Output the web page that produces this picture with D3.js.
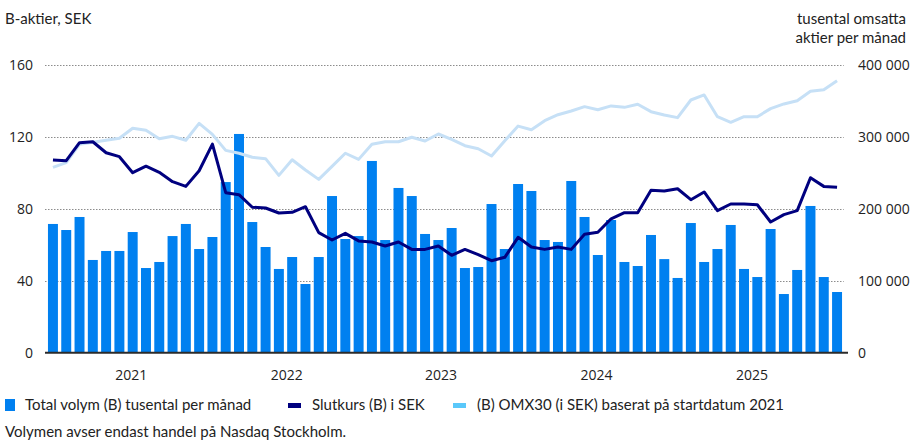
<!DOCTYPE html>
<html>
<head>
<meta charset="utf-8">
<script src="https://cdn.jsdelivr.net/npm/d3@7"></script>
<style>
  html, body { margin: 0; padding: 0; background: #fff; }
  svg { display: block; }
  text { font-family: Lato, "Open Sans", sans-serif; fill: #222; }
</style>
</head>
<body>
<svg id="chart" width="913" height="441"></svg>
<script>
// Monthly series, Jul 2020 – Jun 2025
const months = d3.timeMonth.range(new Date(2020, 6, 1), new Date(2025, 6, 1));

// Total traded volume, B-shares (thousands of shares per month)
const volume = [
  178800, 170400, 188500, 128800, 141300, 141300, 167600, 117600, 126000, 162000,
  178800, 144000, 160700, 237000, 303800, 181500, 146800, 116300, 132900, 95400,
  132900, 217600, 157900, 162000, 266300, 156500, 228800, 217600, 164900, 156500,
  173200, 117600, 119000, 206500, 144000, 234300, 224600, 156500, 153800, 238500,
  188500, 135700, 184300, 126000, 120400, 163500, 130000, 103800, 180100, 126000,
  144000, 177400, 116300, 105100, 171800, 81500, 114900, 203800, 105100, 84300
];

// Closing price, B-share (SEK)
const closePrice = [
  107.1, 106.7, 116.7, 117.2, 111.1, 108.9, 100.0, 103.6, 100.2, 95.0,
  92.4, 101.1, 115.9, 88.9, 87.8, 80.8, 80.4, 77.6, 78.0, 81.1,
  66.7, 62.6, 66.3, 62.1, 61.5, 59.3, 61.5, 57.4, 57.4, 59.3,
  54.1, 57.4, 54.5, 51.1, 53.0, 64.1, 58.7, 57.4, 58.7, 57.4,
  65.8, 66.9, 74.4, 77.8, 77.8, 90.2, 89.8, 91.1, 85.0, 89.3,
  78.9, 82.6, 82.6, 82.2, 72.6, 76.7, 78.9, 97.2, 92.4, 91.9
];

// OMX30 rebased to the B-share (SEK)
const omx30 = [
  103.0, 105.6, 115.8, 116.9, 118.0, 119.1, 124.7, 123.6, 118.9, 120.2,
  118.0, 127.4, 121.3, 112.4, 110.8, 108.6, 107.8, 98.5, 107.2, 101.5,
  96.3, 103.5, 110.8, 107.4, 115.8, 117.2, 117.2, 119.7, 117.6, 121.5,
  118.5, 115.0, 113.3, 109.3, 117.8, 125.9, 123.9, 128.9, 132.2, 134.3,
  136.7, 135.0, 137.1, 136.3, 138.0, 133.9, 132.1, 130.6, 140.4, 143.2,
  131.1, 128.0, 131.1, 131.1, 135.6, 138.2, 140.0, 145.2, 146.1, 151.1
];

// Axis ticks and year labels (year label placed at a fractional month index)
const leftTicks = [0, 40, 80, 120, 160];
const rightTicks = [0, 100000, 200000, 300000, 400000];
const yearLabels = ["2021", "2022", "2023", "2024", "2025"];
const yearLabelAt = [5.9, 17.6, 29.2, 40.9, 52.6];

const legendItems = [
  { label: "Total volym (B) tusental per månad", color: "#0080f0", kind: "bar" },
  { label: "Slutkurs (B) i SEK", color: "#00007f", kind: "line" },
  { label: "(B) OMX30 (i SEK) baserat på startdatum 2021", color: "#5ac8fa", kind: "line" }
];

const svg = d3.select("#chart");
const W = 913;

const plot = { left: 46.3, right: 843.7, top: 64.7, bottom: 352.7 };

const x = d3.scaleBand()
  .domain(d3.range(months.length))
  .range([plot.left, plot.right])
  .paddingInner(0.25)
  .paddingOuter(0.125);

const xMid = i => x(i) + x.bandwidth() / 2;
const xFrac = d3.scaleLinear().domain([0, months.length - 1]).range([xMid(0), xMid(months.length - 1)]);

const yL = d3.scaleLinear().domain([0, 160]).range([plot.bottom, plot.top]);
const yR = d3.scaleLinear().domain([0, 400000]).range([plot.bottom, plot.top]);

// Dotted gridlines
svg.append("g")
  .selectAll("line")
  .data(leftTicks.filter(d => d > 0))
  .join("line")
  .attr("x1", 45).attr("x2", plot.right)
  .attr("y1", d => Math.round(yL(d)) + 0.5).attr("y2", d => Math.round(yL(d)) + 0.5)
  .attr("stroke", "#8c8c8c")
  .attr("stroke-width", 1)
  .attr("stroke-dasharray", "1.5,1.5");

// Volume bars
svg.append("g")
  .selectAll("rect")
  .data(volume)
  .join("rect")
  .attr("x", (d, i) => x(i))
  .attr("width", x.bandwidth())
  .attr("y", d => yR(d))
  .attr("height", d => yR(0) - yR(d))
  .attr("fill", "#0080f0");

// Baseline
svg.append("line")
  .attr("x1", 45).attr("x2", 848)
  .attr("y1", plot.bottom).attr("y2", plot.bottom)
  .attr("stroke", "#2b2b2b")
  .attr("stroke-width", 2);

const line = d3.line()
  .x((d, i) => xMid(i))
  .y(d => yL(d));

svg.append("path")
  .datum(omx30)
  .attr("d", line)
  .attr("fill", "none")
  .attr("stroke", "#c6e0f6")
  .attr("stroke-width", 3)
  .attr("stroke-linejoin", "round");

svg.append("path")
  .datum(closePrice)
  .attr("d", line)
  .attr("fill", "none")
  .attr("stroke", "#00007f")
  .attr("stroke-width", 3)
  .attr("stroke-linejoin", "round");

// Left axis labels
svg.append("g")
  .selectAll("text")
  .data(leftTicks)
  .join("text")
  .attr("x", 33)
  .attr("y", d => yL(d))
  .attr("dy", "0.35em")
  .attr("text-anchor", "end")
  .style("font-family", "'Open Sans', sans-serif")
  .style("font-size", "14px")
  .text(d => d);

// Right axis labels
const fmtR = d => d3.format(",")(d).replace(/,/g, "\u00a0");
svg.append("g")
  .selectAll("text")
  .data(rightTicks)
  .join("text")
  .attr("x", 858)
  .attr("y", d => yR(d))
  .attr("dy", "0.35em")
  .attr("text-anchor", "start")
  .style("font-family", "'Open Sans', sans-serif")
  .style("font-size", "14px")
  .text(fmtR);

// Year labels
svg.append("g")
  .selectAll("text")
  .data(yearLabels)
  .join("text")
  .attr("x", (d, i) => xFrac(yearLabelAt[i]))
  .attr("y", 380)
  .attr("text-anchor", "middle")
  .style("font-family", "'Open Sans', sans-serif")
  .style("font-size", "14px")
  .text(d => d);

// Axis titles
svg.append("text")
  .attr("x", 5).attr("y", 24)
  .style("font-size", "15px")
  .text("B-aktier, SEK");

svg.append("text")
  .attr("x", 906).attr("y", 24)
  .attr("text-anchor", "end")
  .style("font-size", "15px")
  .text("tusental omsatta");
svg.append("text")
  .attr("x", 906).attr("y", 43)
  .attr("text-anchor", "end")
  .style("font-size", "15px")
  .text("aktier per månad");

// Legend
const legendX = [5, 288, 453];
const lg = svg.append("g");
legendItems.forEach((item, i) => {
  const gx = legendX[i];
  if (item.kind === "bar") {
    lg.append("rect").attr("x", gx).attr("y", 399).attr("width", 10).attr("height", 12).attr("fill", item.color);
  } else {
    lg.append("rect").attr("x", gx).attr("y", 403).attr("width", 13).attr("height", 5).attr("fill", item.color);
  }
  lg.append("text")
    .attr("x", gx + (item.kind === "bar" ? 20 : 24))
    .attr("y", 410)
    .style("font-size", "15px")
    .text(item.label);
});

// Footnote
svg.append("text")
  .attr("x", 5).attr("y", 437)
  .style("font-size", "15px")
  .text("Volymen avser endast handel på Nasdaq Stockholm.");
</script>
</body>
</html>
